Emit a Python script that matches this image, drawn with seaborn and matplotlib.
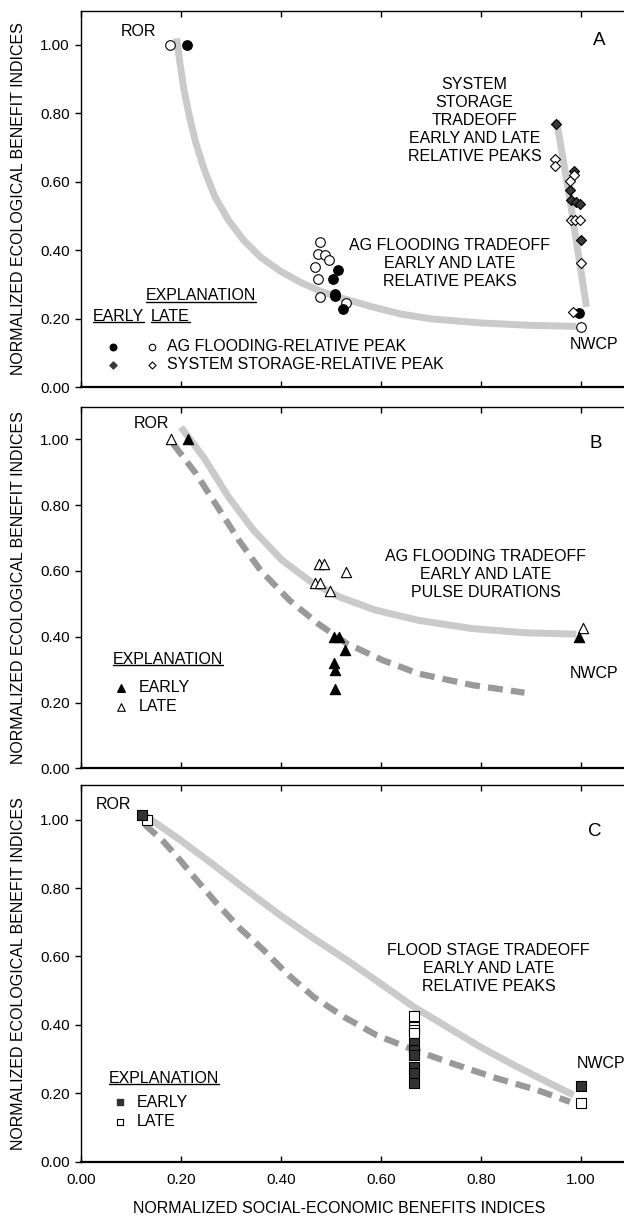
import numpy as np
import pandas as pd
import matplotlib
matplotlib.use("Agg")
import matplotlib.pyplot as plt
from matplotlib.lines import Line2D
import seaborn as sns

# ---------------------------------------------------------------------------
# data

x_ticks = [0.0, 0.2, 0.4, 0.6, 0.8, 1.0]
y_ticks = [0.0, 0.2, 0.4, 0.6, 0.8, 1.0]

# panel A - ag flooding, relative peak (circles)
a_circ_early_x = [0.212, 0.515, 0.505, 0.508, 0.508, 0.525, 0.996]
a_circ_early_y = [1.000, 0.342, 0.315, 0.274, 0.266, 0.228, 0.218]
a_circ_late_x = [0.178, 0.478, 0.475, 0.488, 0.497, 0.468, 0.475, 0.478, 0.530, 1.001]
a_circ_late_y = [1.000, 0.425, 0.389, 0.386, 0.372, 0.352, 0.315, 0.265, 0.247, 0.177]
# panel A - system storage, relative peak (diamonds)
a_dia_early_x = [0.950, 0.986, 0.978, 0.980, 0.990, 0.999, 1.000]
a_dia_early_y = [0.768, 0.632, 0.577, 0.547, 0.541, 0.535, 0.431]
a_dia_late_x = [0.949, 0.949, 0.986, 0.979, 0.980, 0.988, 0.999, 1.000, 0.984]
a_dia_late_y = [0.666, 0.647, 0.620, 0.602, 0.490, 0.490, 0.490, 0.364, 0.221]
# panel A tradeoff curves
a_ag_curve_x = [0.191, 0.198, 0.206, 0.217, 0.230, 0.247, 0.268, 0.295, 0.325, 0.360,
                0.400, 0.440, 0.480, 0.530, 0.580, 0.640, 0.700, 0.800, 0.900, 0.990]
a_ag_curve_y = [1.019, 0.946, 0.868, 0.790, 0.712, 0.634, 0.556, 0.488, 0.430, 0.379,
                0.338, 0.306, 0.280, 0.257, 0.236, 0.214, 0.200, 0.188, 0.181, 0.178]
a_ss_curve_x = [0.951, 0.978, 1.011]
a_ss_curve_y = [0.780, 0.547, 0.235]

# panel B - pulse durations (triangles)
b_early_x = [0.214, 0.506, 0.517, 0.528, 0.506, 0.508, 0.509, 0.996]
b_early_y = [1.000, 0.399, 0.399, 0.359, 0.319, 0.299, 0.240, 0.400]
b_late_x = [0.181, 0.476, 0.487, 0.468, 0.478, 0.499, 0.530, 1.005]
b_late_y = [1.000, 0.620, 0.620, 0.562, 0.562, 0.538, 0.597, 0.428]
b_late_curve_x = [0.200, 0.245, 0.295, 0.345, 0.402, 0.460, 0.517, 0.589, 0.675, 0.782, 0.890, 0.991]
b_late_curve_y = [1.037, 0.946, 0.825, 0.724, 0.633, 0.567, 0.521, 0.481, 0.450, 0.425, 0.412, 0.408]
b_early_curve_x = [0.184, 0.230, 0.273, 0.316, 0.359, 0.417, 0.474, 0.531, 0.603, 0.675, 0.783, 0.887]
b_early_curve_y = [0.987, 0.896, 0.795, 0.693, 0.602, 0.511, 0.440, 0.380, 0.329, 0.288, 0.253, 0.230]

# panel C - flood stage (squares)
c_early_x = [0.123, 0.667, 0.667, 0.667, 0.667, 0.667, 0.667, 1.000]
c_early_y = [1.015, 0.346, 0.327, 0.312, 0.278, 0.259, 0.229, 0.221]
c_late_x = [0.132, 0.667, 0.667, 0.667, 0.667, 1.000]
c_late_y = [1.000, 0.426, 0.393, 0.385, 0.376, 0.173]
c_late_curve_x = [0.131, 0.198, 0.265, 0.331, 0.398, 0.465, 0.531, 0.598, 0.665, 0.731,
                  0.798, 0.865, 0.931, 0.985]
c_late_curve_y = [1.009, 0.941, 0.868, 0.794, 0.721, 0.653, 0.590, 0.522, 0.453, 0.395,
                  0.336, 0.283, 0.234, 0.195]
c_early_curve_x = [0.128, 0.165, 0.198, 0.231, 0.271, 0.318, 0.365, 0.411, 0.465, 0.525,
                   0.591, 0.665, 0.751, 0.831, 0.911, 0.978]
c_early_curve_y = [0.985, 0.936, 0.882, 0.824, 0.756, 0.682, 0.619, 0.551, 0.482, 0.424,
                   0.370, 0.327, 0.283, 0.244, 0.210, 0.175]

# ---------------------------------------------------------------------------

sns.set_style("ticks")
plt.rcParams['font.family'] = ['Liberation Sans', 'DejaVu Sans']
plt.rcParams['text.color'] = 'black'
plt.rcParams['axes.labelcolor'] = 'black'
plt.rcParams['axes.edgecolor'] = 'black'
plt.rcParams['xtick.color'] = 'black'
plt.rcParams['ytick.color'] = 'black'

FS = 11.5
TFS = 11
LS = 1.24
LIGHT = '#cacaca'
DARK = '#999999'
YLABEL = 'NORMALIZED ECOLOGICAL BENEFIT INDICES'

fig = plt.figure(figsize=(6.24, 12.2), dpi=100)
axA = fig.add_axes([0.1298, 0.6825, 0.8814, 0.3088])
axB = fig.add_axes([0.1298, 0.3702, 0.8814, 0.2966])
axC = fig.add_axes([0.1298, 0.0478, 0.8814, 0.3084])

underlined = []


def curve(ax, xs, ys, color, dashed=False):
    ls = (0, (2.4, 1.3)) if dashed else '-'
    sns.lineplot(x=xs, y=ys, ax=ax, sort=False, estimator=None, color=color,
                 lw=5 if not dashed else 4.5, linestyle=ls, solid_capstyle='butt',
                 dash_capstyle='butt', solid_joinstyle='round', zorder=1)


def pts(ax, xs, ys, marker, filled, s, z, face='black'):
    sns.scatterplot(x=xs, y=ys, ax=ax, marker=marker, s=s,
                    color=face if filled else 'white', edgecolor='black',
                    linewidth=0.8, zorder=z)


def underline(ax, x, y, txt, ha='left'):
    t = ax.text(x, y, txt, fontsize=FS, ha=ha, va='center')
    underlined.append(t)


def frame(ax, label, lx, ly, show_x):
    ax.set_xlim(0, 1.1)
    ax.set_ylim(0, 1.1)
    ax.set_xticks(x_ticks)
    ax.set_yticks(y_ticks)
    ax.set_yticklabels(['%.2f' % v for v in y_ticks], fontsize=TFS)
    if show_x:
        ax.set_xticklabels(['%.2f' % v for v in x_ticks], fontsize=TFS)
    else:
        ax.set_xticklabels([])
    ax.tick_params(axis='x', direction='in', top=True, length=4, width=1, pad=8)
    ax.tick_params(axis='y', direction='out', length=4, width=1, pad=4)
    for sp in ax.spines.values():
        sp.set_linewidth(1.0)
    ax.spines['bottom'].set_linewidth(1.6)
    ax.set_ylabel(YLABEL, fontsize=FS)
    ax.yaxis.set_label_coords(-0.100, 0.5)
    ax.set_xlabel('')
    ax.text(lx, ly, label, fontsize=FS + 2, ha='center', va='center')


# ----- panel A
curve(axA, a_ag_curve_x, a_ag_curve_y, LIGHT)
curve(axA, a_ss_curve_x, a_ss_curve_y, LIGHT)
pts(axA, a_circ_late_x, a_circ_late_y, 'o', False, 48, 2)
pts(axA, a_circ_early_x, a_circ_early_y, 'o', True, 48, 3)
pts(axA, a_dia_early_x, a_dia_early_y, 'D', True, 26, 4, face='#383838')
pts(axA, a_dia_late_x, a_dia_late_y, 'D', False, 26, 5)
frame(axA, 'A', 1.036, 1.012, False)
axA.text(0.150, 1.04, 'ROR', fontsize=FS, ha='right', va='center')
axA.text(1.027, 0.124, 'NWCP', fontsize=FS, ha='center', va='center')
axA.text(0.787, 0.779, 'SYSTEM\nSTORAGE\nTRADEOFF\nEARLY AND LATE\nRELATIVE PEAKS',
         fontsize=FS, ha='center', va='center', linespacing=LS)
axA.text(0.738, 0.362, 'AG FLOODING TRADEOFF\nEARLY AND LATE\nRELATIVE PEAKS',
         fontsize=FS, ha='center', va='center', linespacing=LS)
underline(axA, 0.240, 0.267, 'EXPLANATION', ha='center')
underline(axA, 0.024, 0.208, 'EARLY')
underline(axA, 0.140, 0.208, 'LATE')
axA.scatter([0.064], [0.119], marker='o', s=22, color='black', zorder=3)
axA.scatter([0.142], [0.119], marker='o', s=22, facecolor='white', edgecolor='black', lw=0.8, zorder=3)
axA.scatter([0.064], [0.065], marker='D', s=13, color='#383838', zorder=3)
axA.scatter([0.142], [0.065], marker='D', s=13, facecolor='white', edgecolor='black', lw=0.8, zorder=3)
axA.text(0.173, 0.119, 'AG FLOODING-RELATIVE PEAK', fontsize=FS, va='center')
axA.text(0.173, 0.066, 'SYSTEM STORAGE-RELATIVE PEAK', fontsize=FS, va='center')

# ----- panel B
curve(axB, b_late_curve_x, b_late_curve_y, LIGHT)
curve(axB, b_early_curve_x, b_early_curve_y, DARK, dashed=True)
pts(axB, b_late_x, b_late_y, '^', False, 55, 2)
pts(axB, b_early_x, b_early_y, '^', True, 55, 3)
frame(axB, 'B', 1.029, 0.989, False)
axB.text(0.140, 1.048, 'ROR', fontsize=FS, ha='center', va='center')
axB.text(1.027, 0.288, 'NWCP', fontsize=FS, ha='center', va='center')
axB.text(0.810, 0.589, 'AG FLOODING TRADEOFF\nEARLY AND LATE\nPULSE DURATIONS',
         fontsize=FS, ha='center', va='center', linespacing=LS)
underline(axB, 0.174, 0.331, 'EXPLANATION', ha='center')
axB.scatter([0.080], [0.245], marker='^', s=30, color='black', zorder=3)
axB.scatter([0.080], [0.187], marker='^', s=30, facecolor='white', edgecolor='black', lw=0.8, zorder=3)
axB.text(0.115, 0.245, 'EARLY', fontsize=FS, va='center')
axB.text(0.115, 0.187, 'LATE', fontsize=FS, va='center')

# ----- panel C
curve(axC, c_late_curve_x, c_late_curve_y, LIGHT)
curve(axC, c_early_curve_x, c_early_curve_y, DARK, dashed=True)
pts(axC, c_late_x, c_late_y, 's', False, 50, 2)
pts(axC, c_early_x, c_early_y, 's', True, 50, 3, face='#333333')
frame(axC, 'C', 1.028, 0.965, True)
axC.text(0.065, 1.044, 'ROR', fontsize=FS, ha='center', va='center')
axC.text(0.991, 0.288, 'NWCP', fontsize=FS, ha='left', va='center')
axC.text(0.815, 0.565, 'FLOOD STAGE TRADEOFF\nEARLY AND LATE\nRELATIVE PEAKS',
         fontsize=FS, ha='center', va='center', linespacing=LS)
underline(axC, 0.166, 0.244, 'EXPLANATION', ha='center')
axC.scatter([0.078], [0.174], marker='s', s=24, color='#333333', zorder=3)
axC.scatter([0.078], [0.117], marker='s', s=24, facecolor='white', edgecolor='black', lw=0.8, zorder=3)
axC.text(0.112, 0.174, 'EARLY', fontsize=FS, va='center')
axC.text(0.112, 0.117, 'LATE', fontsize=FS, va='center')

fig.text(0.544, 0.0095, 'NORMALIZED SOCIAL-ECONOMIC BENEFITS INDICES',
         fontsize=FS, ha='center', va='center')

# underline the explanation headings using their rendered extents
fig.canvas.draw()
renderer = fig.canvas.get_renderer()
inv = fig.transFigure.inverted()
for t in underlined:
    bb = t.get_window_extent(renderer)
    (x0, y0), (x1, _) = inv.transform([(bb.x0, bb.y0 + 1.5), (bb.x1, bb.y0 + 1.5)])
    fig.add_artist(Line2D([x0, x1], [y0, y0], color='black', lw=1.0))

fig.savefig('out.png', dpi=100)
